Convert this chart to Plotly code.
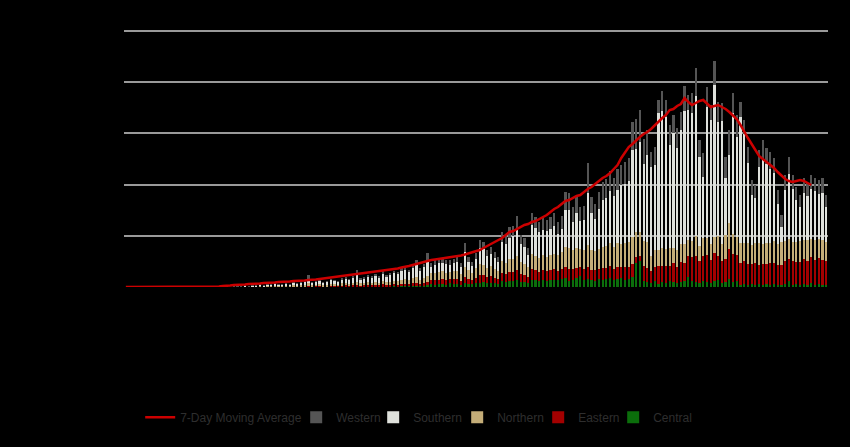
import pandas as pd
import plotly.graph_objects as go

dates = pd.date_range("2020-03-01", periods=189, freq="D")

central = ([0] * 26 +
    [0,0,0,0,0,0,0,0,0,0,2,0,2,0,3] +
    [1,2,2,1,3,2,2,3,4,2, 3,3,2,3,4,3,3,5,6,4, 6,8,5,6,7,6,8,6,9,7, 8,10,9,12,12,10,14,15,12,14, 18] +
    [30,25,35,30,25,40,30,35,25,40, 35,30,40,45,50,40,45,40,35,60, 55,65,60,70,55,50,45,75,70,60, 70,65,75,70] +
    [70,80,90,60,70,90,110,70,80,70, 60,80,70,80,90,70,80,90,70,80, 100,240,260,60,50] +
    [40,60,30,50,40,60,50,40,50,60, 100,60,50,40,60,50,40,60,70,40, 50,80,50,60] +
    [20,30,20,30,20,30,20,30,20,30, 20,20,30,60,20,30,20,30,20,40, 20,30,20,20])

eastern = ([0] * 26 +
    [0,2,0,1,2,1,3,2,3,2,4,3,4,5,5] +
    [3,4,4,3,6,4,6,6,10,5, 7,8,5,6,9,8,7,10,12,9, 12,15,10,11,13,12,14,12,18,13, 15,18,16,20,22,18,24,28,20,25, 32] +
    [40,45,40,50,45,40,50,45,40,60, 50,45,55,80,75,60,70,55,50,80, 75,90,95,100,80,75,60,105,100,95, 100,95,100,110] +
    [90,100,110,120,110,100,90,110,120,100, 110,100,120,110,120,110,120,110,130,120, 130,60,50,150,140] +
    [120,140,180,160,170,150,190,160,200,180, 210,240,260,220,250,270,230,280,240,220, 230,300,280,260] +
    [220,230,210,200,220,190,210,200,220,210, 200,200,230,220,240,220,230,250,240,260, 250,260,250,240])

northern = ([0] * 26 +
    [0,3,0,3,2,3,5,2,5,6,7,5,8,7,10] +
    [8,7,10,9,12,11,13,15,22,14, 15,17,14,16,20,18,15,22,24,20, 26,30,22,25,28,26,30,26,35,28, 32,36,34,42,45,38,48,55,42,50, 65] +
    [70,75,80,80,70,75,80,85,70,100, 85,70,95,110,100,95,100,90,80,120, 110,125,130,140,115,110,95,150,145,140, 150,145,150,155] +
    [160,170,200,210,190,200,180,190,220,200, 190,200,210,220,230,220,240,230,240,250, 270,250,240,250,260] +
    [150,170,160,180,170,180,150,170,180,190, 160,160,200,150,180,170,160,160,200,170, 240,260,200,180] +
    [200,180,210,190,200,220,200,210,200,220, 210,230,200,200,190,200,210,190,210,180, 200,190,200,190])

southern = ([0] * 26 +
    [0,4,0,5,5,5,10,5,10,10,14,10,13,15,17] +
    [14,14,19,13,23,18,23,28,44,23, 28,33,23,27,37,32,27,41,45,37, 51,72,41,45,56,51,60,52,68,56, 65,74,71,88,93,80,102,122,90,109, 155] +
    [60,80,85,80,90,70,80,85,65,150, 80,65,90,155,155,115,120,105,85,190, 190,210,225,260,180,170,120,290,275,255, 255,255,255,280] +
    [210,230,370,380,280,350,280,300,520,370, 320,400,470,480,520,510,530,590,590,610, 870,830,900,770,870] +
    [890,850,1370,1370,1320,1030,1150,1020,1140,1330, 1300,1280,1400,890,610,1310,1240,1520,1140,1230, 570,680,1210,1000] +
    [1260,1090,800,500,450,760,840,790,740,680, 400,150,510,650,530,420,340,470,440,500, 490,450,470,350])

western = ([0] * 26 +
    [0,1,0,1,1,1,2,1,2,2,3,2,3,3,5] +
    [4,3,5,4,6,5,6,8,40,6, 7,9,6,8,10,9,8,12,13,10, 15,45,12,13,16,15,18,14,40,16, 20,22,20,28,28,24,32,50,26,32, 70] +
    [40,45,40,50,40,45,40,50,40,90, 50,40,60,80,70,60,65,60,50,100, 90,110,100,140,90,85,70,120,110,100, 115,110,120,125] +
    [120,130,180,170,150,160,140,140,300,160, 150,170,180,190,200,180,210,200,220,230, 280,300,320,250,250] +
    [150,180,130,200,170,200,180,200,180,250, 150,200,280,170,240,200,150,240,200,180, 210,250,200,220] +
    [150,140,160,150,130,170,200,160,170,150, 140,120,150,170,140,130,120,150,130,140, 130,140,150,120])

moving_avg = ([0] * 25 +
    [5,10,10,15,20,20,20,25,30,30,35,35,40,40,45,45] +
    [50,50,55,55,60,60,60,65,70,70,75,80,85,90,95,100,105,110,110,115] +
    [120,125,130,135,140,150,155,160,165,170,175,180,185,195,200,210,220,230,245,255] +
    [265,270,275,280,285,290,295,300,310,315,325,335,350,360,370,390,410,430,450,470] +
    [490,520,550,560,580,600,620,630,650,660,680,695,720,750,780,800,830,860,870,890] +
    [910,920,950,980,1000,1030,1060,1090,1110,1140,1180,1220,1290,1350,1400,1430,1470,1500,1530,1550] +
    [1580,1620,1650,1690,1720,1770,1780,1810,1830,1890,1850,1820,1840,1860,1870,1830,1800,1810,1820,1800] +
    [1780,1750,1710,1680,1620,1550,1490,1430,1370,1310,1280,1250,1220,1190,1150,1110,1080,1060,1050,1060,1070,1060,1040,1020] +
    [None] * 4)

series = [
    ("Central", central, "#0b6e0b", 38),
    ("Eastern", eastern, "#a30000", 30),
    ("Northern", northern, "#c4ad78", 36),
    ("Southern", southern, "#dfe1dc", 39),
    ("Western", western, "#555555", 32),
]

fig = go.Figure()
for name, vals, col, lw in series:
    fig.add_trace(go.Bar(x=dates, y=vals, name=name, marker_color=col,
                         marker_line_width=0, legendwidth=lw))
fig.add_trace(go.Scatter(x=dates, y=moving_avg, name="7-Day Moving Average",
                         mode="lines", line=dict(color="#cc0000", width=2.5),
                         legendwidth=111))

fig.update_layout(
    width=850, height=447,
    barmode="stack", bargap=0.4,
    paper_bgcolor="black", plot_bgcolor="black",
    margin=dict(l=124, r=22, t=29, b=160),
    font=dict(family="Liberation Sans, Arial, sans-serif", size=12, color="#333333"),
    showlegend=True,
    legend=dict(orientation="h", traceorder="reversed", x=0.023, xanchor="left",
                y=-0.505, yanchor="middle", font=dict(size=12, color="#2e2e2e"),
                bgcolor="rgba(0,0,0,0)"),
)
fig.update_xaxes(showgrid=False, showticklabels=False, zeroline=False,
                 showline=False, ticks="",
                 range=[dates[0] - pd.Timedelta(hours=12), dates[-1] + pd.Timedelta(hours=12)])
fig.update_yaxes(range=[0, 2580], dtick=512, showgrid=True, gridcolor="#9a9a9a",
                 gridwidth=1.5, showticklabels=False, zeroline=False, ticks="")

fig.write_html("out.html", config={"displayModeBar": False},
               post_script="document.body.style.margin='0';document.body.style.background='black';")
